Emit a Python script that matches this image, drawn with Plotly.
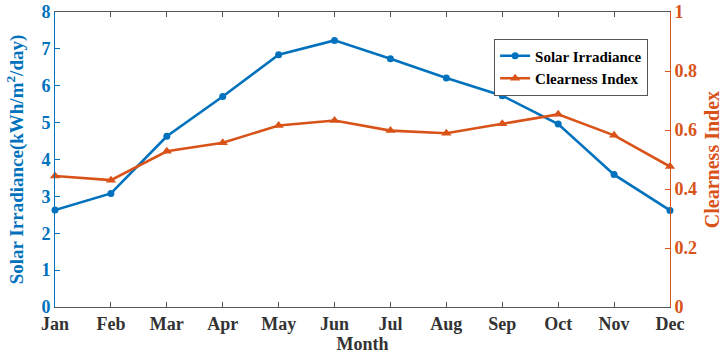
import plotly.graph_objects as go

months = ["Jan", "Feb", "Mar", "Apr", "May", "Jun", "Jul", "Aug", "Sep", "Oct", "Nov", "Dec"]
solar_irradiance = [2.63, 3.08, 4.63, 5.71, 6.84, 7.23, 6.73, 6.21, 5.73, 4.96, 3.59, 2.62]
clearness_index = [0.444, 0.430, 0.528, 0.557, 0.615, 0.632, 0.598, 0.589, 0.621, 0.653, 0.582, 0.476]

BLUE = "#0072BD"
ORANGE = "#D95319"
GRAY = "#333333"
FONT = "Liberation Serif"

fig = go.Figure()
fig.add_trace(go.Scatter(
    x=months, y=solar_irradiance, name="<b>Solar Irradiance</b>",
    mode="lines+markers", line=dict(color=BLUE, width=2.6),
    marker=dict(symbol="circle", size=7, color=BLUE), cliponaxis=False, yaxis="y"))
fig.add_trace(go.Scatter(
    x=months, y=clearness_index, name="<b>Clearness Index</b>",
    mode="lines+markers", line=dict(color=ORANGE, width=2.6),
    marker=dict(symbol="triangle-up", size=9, color=ORANGE), cliponaxis=False, yaxis="y2"))

fig.update_layout(
    width=723, height=357,
    margin=dict(l=55, r=53, t=12, b=50, autoexpand=False),
    paper_bgcolor="white", plot_bgcolor="white",
    font=dict(family=FONT, size=17, color=GRAY),
    showlegend=True,
    legend=dict(x=0.714, y=0.91, xanchor="left", yanchor="top",
                bordercolor="#555555", borderwidth=1, bgcolor="white",
                font=dict(family=FONT, size=15, color="black"),
                tracegroupgap=0, itemwidth=30),
    xaxis=dict(
        type="category", range=[0, 11], showgrid=False, zeroline=False,
        automargin=False,
        showline=True, linecolor="#555555", linewidth=1, mirror="ticks",
        ticks="inside", ticklen=5, tickcolor="#555555",
        tickfont=dict(family=FONT, size=18, color=GRAY, weight="bold"),
        title=dict(text="<b>Month</b>", font=dict(family=FONT, size=18, color=GRAY), standoff=2),
    ),
    yaxis=dict(
        range=[0, 8], dtick=1, showgrid=False, zeroline=False,
        automargin=False,
        showline=True, linecolor=BLUE, linewidth=1,
        ticks="inside", ticklen=5, tickcolor=BLUE,
        tickfont=dict(family=FONT, size=18, color=BLUE, weight="bold"),
        title=dict(text="<b>Solar Irradiance(kWh/m<sup>2</sup>/day)</b>",
                   font=dict(family=FONT, size=19, color=BLUE), standoff=12),
    ),
    yaxis2=dict(
        range=[0, 1], dtick=0.2, overlaying="y", side="right",
        showgrid=False, zeroline=False, automargin=False,
        showline=True, linecolor=ORANGE, linewidth=1,
        ticks="inside", ticklen=5, tickcolor=ORANGE,
        tickfont=dict(family=FONT, size=18, color=ORANGE, weight="bold"),
        tickformat="~g",
        title=dict(text="<b>Clearness Index</b>",
                   font=dict(family=FONT, size=20, color=ORANGE), standoff=8),
    ),
)

fig.write_html("out.html", config={"displayModeBar": False},
               post_script="document.body.style.margin='0px';document.body.style.padding='0px';")
